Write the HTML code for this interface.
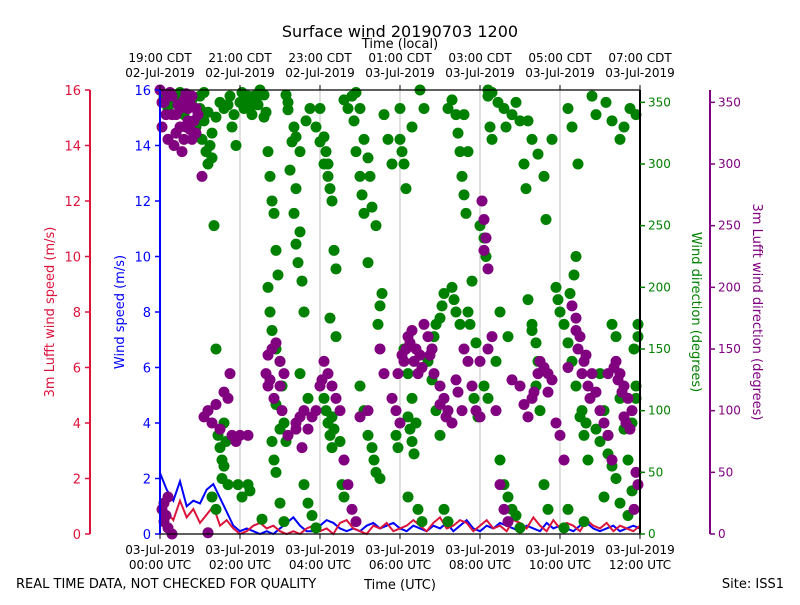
<!DOCTYPE html>
<html><head><meta charset="utf-8"><style>
body{margin:0;background:#fff}
svg{font-family:"DejaVu Sans","Liberation Sans",sans-serif}
</style></head><body>
<svg id="c" width="800" height="600" xmlns="http://www.w3.org/2000/svg">
<rect width="800" height="600" fill="#fff"/>
<text x="400" y="37" font-size="16" text-anchor="middle">Surface wind 20190703 1200</text>
<text x="400" y="48" font-size="13" text-anchor="middle">Time (local)</text>
<text x="400" y="589" font-size="13" text-anchor="middle">Time (UTC)</text>
<text x="16" y="588" font-size="13">REAL TIME DATA, NOT CHECKED FOR QUALITY</text>
<text x="784" y="588" font-size="13" text-anchor="end">Site: ISS1</text>
<text transform="translate(54,312) rotate(-90)" font-size="13" fill="#dc143c" text-anchor="middle">3m Lufft wind speed (m/s)</text>
<text transform="translate(124,312) rotate(-90)" font-size="13" fill="#0000ff" text-anchor="middle">Wind speed (m/s)</text>
<text transform="translate(692,312) rotate(90)" font-size="13" fill="#008000" text-anchor="middle">Wind direction (degrees)</text>
<text transform="translate(753,312) rotate(90)" font-size="13" fill="#800080" text-anchor="middle">3m Lufft wind direction (degrees)</text>
<g id="grid"></g><g id="marks"></g><g id="axes"></g>
</svg>
<script>
const speedTicks=[0,2,4,6,8,10,12,14,16];
const dirTicks=[0,50,100,150,200,250,300,350];
const utcLabels=["00:00 UTC","02:00 UTC","04:00 UTC","06:00 UTC","08:00 UTC","10:00 UTC","12:00 UTC"];
const localTimes=["19:00 CDT","21:00 CDT","23:00 CDT","01:00 CDT","03:00 CDT","05:00 CDT","07:00 CDT"];
const localDates=["02-Jul-2019","02-Jul-2019","02-Jul-2019","03-Jul-2019","03-Jul-2019","03-Jul-2019","03-Jul-2019"];
const greenT=[0.1,0.2,0.3,0.5,0.6,0.8,0.9,1.0,1.05,1.1,1.15,1.2,1.3,1.35,1.4,1.45,1.5,1.55,1.6,1.65,1.3,1.4,1.7,1.8,1.9,1.95,2.0,2.1,2.2,2.3,2.4,2.5,2.6,2.55,2.7,2.75,2.8,2.85,2.9,2.95,2.7,2.75,2.8,2.9,3.0,3.05,2.8,2.85,2.9,3.0,3.1,3.2,3.3,3.25,3.4,3.5,3.45,3.55,3.6,3.5,3.7,3.6,3.7,3.8,3.9,4.0,4.1,4.15,4.2,4.3,4.35,4.4,4.25,4.4,4.3,4.35,4.5,4.55,4.6,4.8,4.85,4.9,5.0,5.05,5.1,5.2,5.0,5.1,5.2,5.3,5.35,5.4,5.5,5.6,5.7,5.8,6.0,6.05,6.1,6.2,6.3,6.4,6.2,6.5,6.6,6.7,6.8,6.9,7.0,7.1,7.2,7.3,7.35,7.4,7.5,7.6,7.7,7.8,7.9,7.85,7.95,8.0,8.1,8.15,8.2,8.25,8.3,8.4,8.5,8.6,8.7,8.8,8.5,8.7,8.9,9.0,9.1,9.15,9.2,9.3,9.4,9.5,9.6,9.7,9.8,9.9,9.95,10.0,10.1,10.2,10.3,10.4,10.5,10.6,10.7,10.8,10.9,11.0,11.1,11.2,11.3,11.4,11.5,11.6,11.7,11.8,11.9,11.85,11.95,11.5,11.7,11.1,10.2,
0.4,0.7,1.0,1.1,1.2,1.25,1.3,1.4,1.5,1.6,1.75,1.85,2.05,2.15,2.25,2.35,2.45,2.6,2.65,3.15,3.2,3.35,3.4,3.5,3.65,3.75,3.9,4.0,4.1,4.2,4.25,4.6,4.7,4.9,5.0,5.1,5.2,5.25,5.3,5.4,6.0,6.1,6.15,6.3,7.2,7.3,7.4,7.45,7.5,7.55,7.6,7.65,7.7,7.75,8.2,8.3,8.45,8.6,8.65,8.8,9.2,9.3,9.45,9.6,9.65,10.2,10.3,10.45,11.15,11.3,11.5,11.6,11.75,11.9,6.8,6.85,6.9,7.0,7.05,7.1,8.1,8.2,6.2,6.25,6.3,6.35,5.9,5.95,9.3,9.4,9.45,10.25,10.35,10.4,10.55,10.65,10.9,11.0,11.2,11.3,11.4,11.8,11.9,11.95,3.35,3.4,2.9,3.0,3.1,3.15,4.1,4.15,4.2,4.25,4.3,1.55,1.6,1.7,2.05,2.2,2.25,5.45,5.5,5.55,6.45,6.55,8.9,9.0,10.1,10.6];
const greenD=[355,345,350,358,340,352,330,345,320,335,310,300,325,250,150,80,70,60,90,75,30,20,348,330,315,40,350,345,355,340,352,360,338,12,310,290,270,260,230,210,200,180,165,150,140,120,75,60,50,25,10,350,318,295,280,245,220,205,180,130,110,40,25,15,5,345,322,310,300,270,230,215,175,160,95,85,75,40,30,355,335,310,290,275,260,220,120,100,80,70,60,50,45,340,320,300,345,310,150,130,110,90,30,360,345,140,125,100,80,20,10,200,190,180,170,340,310,205,155,110,95,250,240,225,355,330,320,140,60,40,30,20,180,160,350,335,300,280,190,170,120,100,40,20,320,200,190,180,170,155,140,120,95,80,60,355,340,130,100,80,170,160,110,85,60,35,110,150,160,25,15,30,20,
352,348,355,358,342,315,305,338,350,345,355,340,358,350,345,355,348,356,342,356,344,330,322,310,335,345,330,318,300,290,280,352,345,358,345,320,305,290,265,250,320,300,280,330,345,352,340,325,310,290,275,260,180,170,360,358,350,345,330,340,335,320,308,290,255,345,330,300,350,335,320,330,345,340,150,160,170,175,185,195,120,110,95,85,75,65,80,70,165,155,140,195,210,225,100,90,85,75,65,55,45,90,120,170,260,235,105,85,90,75,110,100,90,80,70,45,55,40,30,40,35,170,185,195,20,10,15,5,5,10];
const purpleT=[0.05,0.1,0.2,0.3,0.4,0.5,0.6,0.7,0.8,0.9,0.35,0.55,0.65,0.75,0.2,0.95,0.25,1.05,0.1,0.2,0.15,0.3,1.1,1.2,1.3,1.4,1.5,1.6,1.7,1.8,1.9,2.0,1.75,1.2,2.2,2.65,2.7,2.8,2.9,3.0,3.1,2.85,3.05,3.2,3.4,3.5,3.6,3.4,3.55,3.7,3.8,3.9,4.1,4.2,4.3,4.4,4.5,4.6,4.7,4.8,4.9,5.0,5.2,5.5,5.6,5.8,5.9,6.0,6.1,6.2,6.3,6.4,6.5,6.6,6.7,6.8,7.0,7.1,7.2,7.3,7.4,7.6,7.7,7.8,7.9,8.0,8.05,8.1,8.15,8.0,8.2,8.3,8.4,8.5,8.6,8.7,8.8,9.0,9.1,9.2,9.3,9.5,9.6,9.7,9.8,9.9,10.0,10.1,10.3,10.4,10.5,10.6,10.7,10.8,10.9,11.0,11.1,11.2,11.4,11.5,11.6,11.7,11.8,11.9,11.95,11.85,11.3,11.2,11.6,10.2,
0.15,0.3,0.45,0.5,0.6,0.7,0.8,0.85,0.9,0.4,0.05,0.0,0.65,0.75,0.05,0.1,0.2,2.7,2.75,3.0,4.0,4.05,5.95,6.05,6.15,6.25,6.35,6.45,6.55,6.75,6.85,7.0,7.15,7.45,7.55,8.1,8.2,9.35,9.45,9.7,10.4,10.45,10.55,10.65,10.75,11.35,11.45,11.55,11.65,11.75];
const purpleD=[330,350,355,340,325,345,352,335,320,345,315,310,330,350,320,340,358,290,10,5,15,0,95,100,90,105,85,115,110,80,75,80,130,1,80,130,145,150,155,140,130,110,100,80,90,95,100,85,70,85,95,100,140,130,120,110,100,60,40,20,10,95,100,150,130,110,100,90,140,160,165,150,145,170,160,150,120,110,100,90,125,150,140,120,100,95,270,255,240,140,150,160,100,40,20,10,125,120,105,95,110,140,135,130,125,90,80,60,185,175,160,140,120,130,115,100,90,80,140,130,120,110,100,50,40,20,60,130,95,135,
340,355,348,330,320,345,355,335,325,340,350,360,357,328,20,25,30,120,125,120,120,125,130,145,150,155,140,130,135,145,130,105,95,115,100,230,215,115,130,115,165,150,130,145,110,135,125,115,90,85];
const blueSpeed=[2.2,1.6,1.2,1.9,1.0,1.2,1.1,1.6,1.8,1.3,0.8,0.3,0.1,0.2,0.1,0.0,0.1,0.0,0.2,0.4,0.6,0.3,0.1,0.1,0.3,0.5,0.4,0.2,0.1,0.2,0.1,0.3,0.4,0.2,0.3,0.4,0.2,0.1,0.3,0.2,0.1,0.3,0.2,0.4,0.1,0.3,0.5,0.2,0.1,0.3,0.2,0.4,0.3,0.2,0.1,0.3,0.2,0.1,0.4,0.2,0.3,0.2,0.1,0.3,0.4,0.2,0.1,0.2,0.3,0.1,0.2,0.3,0.2];
const redSpeed=[1.0,0.8,0.5,1.2,0.6,0.9,0.4,0.7,1.0,0.3,0.5,0.2,0.0,0.1,0.3,0.4,0.2,0.3,0.1,0.0,0.1,0.0,0.2,0.3,0.1,0.2,0.0,0.4,0.5,0.2,0.1,0.0,0.3,0.2,0.4,0.1,0.2,0.3,0.5,0.3,0.1,0.4,0.6,0.2,0.3,0.5,0.4,0.1,0.3,0.5,0.2,0.3,0.1,0.5,0.4,0.2,0.6,0.3,0.1,0.5,0.2,0.4,0.3,0.1,0.5,0.3,0.2,0.4,0.1,0.3,0.2,0.1,0.3];

const L=160,R=640,T=90,B=534;
const xs=h=>L+(R-L)*h/12;
const ys=v=>B-(B-T)*v/16;
const yd=d=>B-(B-T)*d/360;
const NS="http://www.w3.org/2000/svg";
function mk(tag,attrs,parent){const e=document.createElementNS(NS,tag);for(const k in attrs)e.setAttribute(k,attrs[k]);parent.appendChild(e);return e;}
const grid=document.getElementById('grid'),marks=document.getElementById('marks'),axes=document.getElementById('axes');

for(let i=1;i<6;i++){const g=mk('line',{x1:xs(i*2),x2:xs(i*2),y1:T,y2:B,stroke:'#b0b0b0','stroke-width':0.8},grid);

}

function line(vals,color,name){const step=12/(vals.length-1);
const p=mk('polyline',{points:vals.map((v,i)=>xs(i*step)+','+ys(v)).join(' '),fill:'none',stroke:color,'stroke-width':2},marks);

}
line(blueSpeed,'#0000ff','wind-speed-line');
line(redSpeed,'#dc143c','lufft-speed-line');

for(let i=0;i<greenT.length;i++){const c=mk('circle',{cx:xs(greenT[i]),cy:yd(greenD[i]),r:5.5,fill:'#008000'},marks);

}
for(let i=0;i<purpleT.length;i++){const c=mk('circle',{cx:xs(purpleT[i]),cy:yd(purpleD[i]),r:5.5,fill:'#800080'},marks);

}

const fr=mk('line',{x1:L,x2:R,y1:T,y2:T,stroke:'#000','stroke-width':1.2},axes);

const fb=mk('line',{x1:L,x2:R,y1:B,y2:B,stroke:'#000','stroke-width':1.2},axes);


function spine(x,color,name){const s=mk('line',{x1:x,x2:x,y1:T,y2:B,stroke:color,'stroke-width':2},axes);
}
spine(L,'#0000ff','wind-speed-axis');spine(90,'#dc143c','lufft-speed-axis');
spine(R,'#000','wind-direction-axis');spine(710,'#800080','lufft-direction-axis');

speedTicks.forEach(v=>{
 [[L,'#0000ff'],[90,'#dc143c']].forEach(([x,c])=>{
  mk('line',{x1:x-5,x2:x,y1:ys(v),y2:ys(v),stroke:c,'stroke-width':1.5},axes);
  const t=mk('text',{x:x-9,y:ys(v)+5,'font-size':13,fill:c,'text-anchor':'end'},axes);t.textContent=v;
  
  });
});
dirTicks.forEach(v=>{
 [[R,'#008000'],[710,'#800080']].forEach(([x,c])=>{
  mk('line',{x1:x,x2:x+5,y1:yd(v),y2:yd(v),stroke:c,'stroke-width':1.5},axes);
  const t=mk('text',{x:x+8,y:yd(v)+4,'font-size':12,fill:c},axes);t.textContent=v;
  
  });
});
utcLabels.forEach((lab,i)=>{const x=xs(i*2);
 mk('line',{x1:x,x2:x,y1:B,y2:B+5,stroke:'#000'},axes);
 mk('line',{x1:x,x2:x,y1:T-5,y2:T,stroke:'#000'},axes);
 const a=mk('text',{x:x,y:554,'font-size':12,'text-anchor':'middle'},axes);a.textContent='03-Jul-2019';
 
 const b=mk('text',{x:x,y:569,'font-size':12,'text-anchor':'middle'},axes);b.textContent=lab;
 
 const c=mk('text',{x:x,y:62,'font-size':12,'text-anchor':'middle'},axes);c.textContent=localTimes[i];
 
 const d=mk('text',{x:x,y:77,'font-size':12,'text-anchor':'middle'},axes);d.textContent=localDates[i];
 
});
</script>
</body></html>
